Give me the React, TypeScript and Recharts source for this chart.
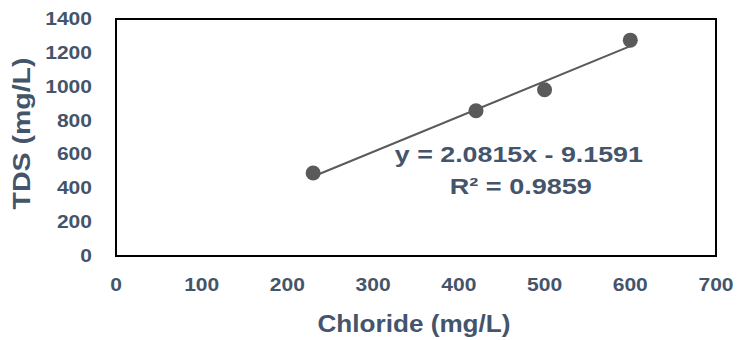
import { ScatterChart, Scatter, XAxis, YAxis, ReferenceArea, ReferenceLine, ReferenceDot } from 'recharts'

const chlorideVals = [230, 420, 500, 600]
const tdsVals = [490, 858, 982, 1275]
const xTicks = [0, 100, 200, 300, 400, 500, 600, 700]
const yTicks = [0, 200, 400, 600, 800, 1000, 1200, 1400]
const slope = 2.0815
const intercept = -9.1591
const eqText = 'y = 2.0815x - 9.1591'
const r2Text = 'R² = 0.9859'

const points = chlorideVals.map((x, i) => ({ x, y: tdsVals[i] }))
const xMin = Math.min(...chlorideVals)
const xMax = Math.max(...chlorideVals)

const TEXT = '#44546A'
const MARK = '#5a5a5a'
const FONT = '"Liberation Sans", Arial, sans-serif'

const XTick = ({ x, y, payload }: any) => {
  const s = String(payload.value)
  return (
    <text x={x} y={y + 27} textAnchor="middle" fill={TEXT} fontFamily={FONT} fontWeight={700} fontSize={18}
      textLength={s.length * 11.7} lengthAdjust="spacingAndGlyphs">
      {s}
    </text>
  )
}

const YTick = ({ x, y, payload }: any) => {
  const s = String(payload.value)
  return (
    <text x={x - 16} y={y + 6} textAnchor="end" fill={TEXT} fontFamily={FONT} fontWeight={700} fontSize={18}
      textLength={s.length * 11.7} lengthAdjust="spacingAndGlyphs">
      {s}
    </text>
  )
}

const XTitle = ({ viewBox }: any) => (
  <text x={viewBox.x + viewBox.width / 2 - 2} y={viewBox.y + 76} textAnchor="middle" fill={TEXT}
    fontFamily={FONT} fontWeight={700} fontSize={23} textLength={193} lengthAdjust="spacingAndGlyphs">
    Chloride (mg/L)
  </text>
)

const YTitle = ({ viewBox }: any) => {
  const cx = 30
  const cy = viewBox.y + viewBox.height / 2 - 4
  return (
    <text x={cx} y={cy} transform={`rotate(-90 ${cx} ${cy})`} textAnchor="middle" fill={TEXT}
      fontFamily={FONT} fontWeight={700} fontSize={24} textLength={152} lengthAdjust="spacingAndGlyphs">
      TDS (mg/L)
    </text>
  )
}

const EqLabel = ({ cx, cy }: any) => (
  <g>
    <text x={cx} y={cy + 8} textAnchor="middle" fill={TEXT} fontFamily={FONT} fontWeight={700} fontSize={22}
      textLength={248} lengthAdjust="spacingAndGlyphs">
      {eqText}
    </text>
    <text x={cx + 2} y={cy + 40} textAnchor="middle" fill={TEXT} fontFamily={FONT} fontWeight={700} fontSize={22}
      textLength={142} lengthAdjust="spacingAndGlyphs">
      {r2Text}
    </text>
  </g>
)

const Dot = ({ cx, cy }: any) => <circle cx={cx} cy={cy} r={7.5} fill={MARK} />

export default function App() {
  return (
    <div style={{ position: 'absolute', left: 0, top: 0, width: 737, height: 340, background: '#fff' }}>
      <ScatterChart width={737} height={340} margin={{ top: 19, right: 21, bottom: 0, left: 0 }}>
        <XAxis
          type="number"
          dataKey="x"
          domain={[0, 700]}
          ticks={xTicks}
          tick={<XTick />}
          tickLine={false}
          axisLine={false}
          height={84}
          label={{ content: <XTitle /> }}
        />
        <YAxis
          type="number"
          dataKey="y"
          domain={[0, 1400]}
          ticks={yTicks}
          tick={<YTick />}
          tickLine={false}
          axisLine={false}
          width={116}
          label={{ content: <YTitle /> }}
        />
        <ReferenceArea x1={0} x2={700} y1={0} y2={1400} fill="none" stroke="#000" strokeWidth={2} />
        <ReferenceLine
          segment={[
            { x: xMin, y: slope * xMin + intercept },
            { x: xMax, y: slope * xMax + intercept },
          ]}
          stroke={MARK}
          strokeWidth={2}
        />
        <Scatter data={points} shape={<Dot />} isAnimationActive={false} />
        <ReferenceDot x={470} y={600} r={0} shape={<EqLabel />} />
      </ScatterChart>
    </div>
  )
}
